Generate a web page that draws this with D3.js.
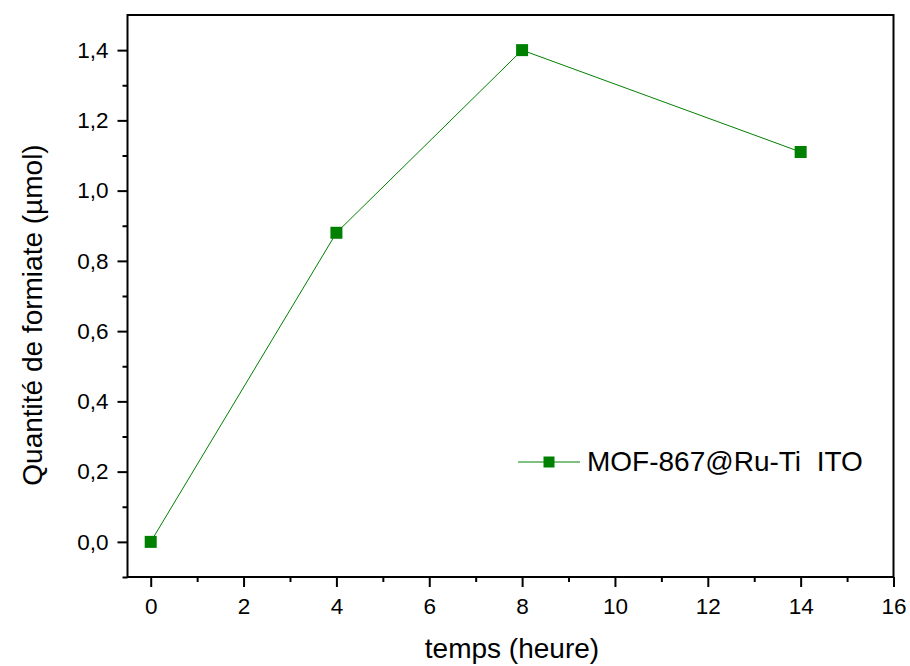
<!DOCTYPE html>
<html><head><meta charset="utf-8">
<script src="https://cdn.jsdelivr.net/npm/d3@7"></script>
<style>body{margin:0;background:#fff;}svg{display:block;font-family:"Liberation Sans",Arial,sans-serif;}</style>
</head><body>
<svg id="c" width="910" height="666"></svg>
<script>
const hours = [0, 4, 8, 14];
const formiate = [0.0, 0.88, 1.40, 1.11];
const seriesName = "MOF-867@Ru-Ti  ITO";
const xTicks = [0, 2, 4, 6, 8, 10, 12, 14, 16];
const yTicks = [0.0, 0.2, 0.4, 0.6, 0.8, 1.0, 1.2, 1.4];
const xMinor = [1, 3, 5, 7, 9, 11, 13, 15];
const yMinor = [-0.1, 0.1, 0.3, 0.5, 0.7, 0.9, 1.1, 1.3];

const svg = d3.select("#c");
const L = 127.5, R = 893.5, T = 15, B = 577;
const x = d3.scaleLinear().domain([-0.5, 16]).range([L, R]);
const y = d3.scaleLinear().domain([-0.1, 1.5]).range([B, T]);
const fmt = d => d3.format(".1f")(d).replace(".", ",");
const green = "#008000";
const FF = "Liberation Sans, Arial, sans-serif";

// frame
svg.append("rect").attr("x", L).attr("y", T).attr("width", R - L).attr("height", B - T)
  .attr("fill", "none").attr("stroke", "#000").attr("stroke-width", 2);

// x axis
const gx = svg.append("g").attr("transform", `translate(0,${B})`);
gx.call(d3.axisBottom(x).tickValues(xTicks).tickSize(10).tickPadding(11).tickFormat(d3.format("d")));
gx.append("g").call(d3.axisBottom(x).tickValues(xMinor).tickSize(5).tickFormat(""));
gx.selectAll(".domain").remove();
gx.selectAll("line").attr("stroke", "#000").attr("stroke-width", 2);
gx.selectAll("text").attr("font-size", 22.5).attr("fill", "#000").attr("font-family", FF);

// y axis
const gy = svg.append("g").attr("transform", `translate(${L},0)`);
gy.call(d3.axisLeft(y).tickValues(yTicks).tickSize(10).tickPadding(9).tickFormat(fmt));
gy.append("g").call(d3.axisLeft(y).tickValues(yMinor).tickSize(5).tickFormat(""));
gy.selectAll(".domain").remove();
gy.selectAll("line").attr("stroke", "#000").attr("stroke-width", 2);
gy.selectAll("text").attr("font-size", 22.5).attr("fill", "#000").attr("font-family", FF);

// titles
svg.append("text").attr("x", 512).attr("y", 658).attr("text-anchor", "middle")
  .attr("font-size", 28).attr("font-family", FF).text("temps (heure)");
svg.append("text").attr("transform", `translate(42,315) rotate(-90)`)
  .attr("text-anchor", "middle").attr("font-size", 28).attr("font-family", FF).text("Quantité de formiate (µmol)");

// line + markers
const data = hours.map((h, i) => ({h, v: formiate[i]}));
svg.append("path").datum(data)
  .attr("d", d3.line().x(d => x(d.h)).y(d => y(d.v)))
  .attr("fill", "none").attr("stroke", green).attr("stroke-width", 1);
const ms = 12;
svg.selectAll(".pt").data(data).join("rect").attr("class", "pt")
  .attr("x", d => x(d.h) - ms / 2).attr("y", d => y(d.v) - ms / 2)
  .attr("width", ms).attr("height", ms).attr("fill", green);

// legend
const ly = 462;
svg.append("line").attr("x1", 518).attr("x2", 580).attr("y1", ly).attr("y2", ly)
  .attr("stroke", green).attr("stroke-width", 1);
svg.append("rect").attr("x", 549 - 5.5).attr("y", ly - 5.5).attr("width", 11).attr("height", 11).attr("fill", green);
svg.append("text").attr("x", 587).attr("y", 471).attr("font-size", 28).attr("fill", "#000").attr("font-family", FF)
  .attr("xml:space", "preserve").style("white-space", "pre").text(seriesName);
</script>
</body></html>
